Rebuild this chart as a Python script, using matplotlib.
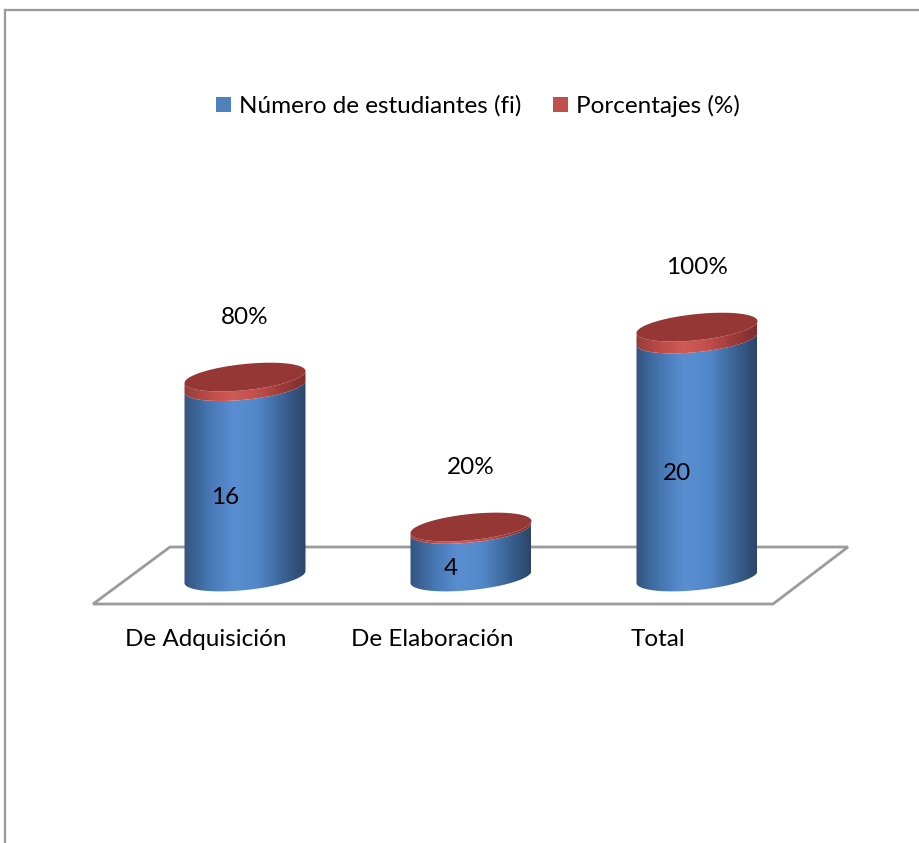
import numpy as np
import matplotlib.pyplot as plt
from matplotlib.patches import Polygon, Patch
from matplotlib.colors import LinearSegmentedColormap

plt.rcParams['font.family'] = ['Lato', 'DejaVu Sans']

categorias = ["De Adquisición", "De Elaboración", "Total"]
estudiantes = [16, 4, 20]
porcentajes = [0.8, 0.2, 1.0]
etiquetas_pct = ["80%", "20%", "100%"]

W, H = 920, 843
fig = plt.figure(figsize=(W / 100, H / 100), dpi=100)
ax = fig.add_axes([0, 0, 1, 1])
ax.set_axis_off()

# pixel scale of the axes (category step and value unit)
px_x, px_y = 226.0, 11.9
x0_px, y0_px = 245.0, 577.0          # position of (0, 0) in pixels from top-left
xlim = (-x0_px / px_x, (W - x0_px) / px_x)
ylim = (-(H - y0_px) / px_y, y0_px / px_y)

a = 60.5 / px_x          # cylinder half width
b = 1.1                  # ellipse half height (value units)
k = 0.5 / a              # slight tilt of the ellipses
fs = 17.5

blue_cm = LinearSegmentedColormap.from_list(
    "b", ["#33547f", "#4676b2", "#5a8ed2", "#5288c9", "#3d6699", "#2b4568"])
red_cm = LinearSegmentedColormap.from_list(
    "r", ["#963c3a", "#bc4b48", "#d05a56", "#c24e4b", "#9c3b39", "#7e2e2c"])


def ellipse_pts(cx, cy, t):
    x = cx + a * np.cos(t)
    return x, cy + b * np.sin(t) + k * (x - cx)


def band(cx, y_lo, y_hi, cmap):
    t_lo = np.linspace(np.pi, 2 * np.pi, 60)
    xb, yb = ellipse_pts(cx, y_lo, t_lo)
    xt, yt = ellipse_pts(cx, y_hi, t_lo[::-1])
    verts = np.vstack([np.column_stack([xb, yb]), np.column_stack([xt, yt])])
    poly = Polygon(verts, closed=True, facecolor='none', edgecolor='none')
    ax.add_patch(poly)
    grad = cmap(np.linspace(0, 1, 256))[None, :, :3]
    im = ax.imshow(grad, extent=[cx - a, cx + a, y_lo - 2, y_hi + 2],
                   aspect='auto', interpolation='bilinear', zorder=2)
    im.set_clip_path(poly)


# floor
n = len(categorias)
fy_back, fy_front = 30 / px_y, -27 / px_y
floor = Polygon([(-75 / px_x, fy_back), (n - 1 + 151 / px_x, fy_back),
                 (n - 1 + 76 / px_x, fy_front), (-152 / px_x, fy_front)],
                closed=True, facecolor='white', edgecolor='#9b9b9b', lw=2, zorder=1)
ax.add_patch(floor)

for i, (est, pct) in enumerate(zip(estudiantes, porcentajes)):
    band(i, 0, est, blue_cm)
    band(i, est, est + pct, red_cm)
    t = np.linspace(0, 2 * np.pi, 120)
    xe, ye = ellipse_pts(i, est + pct, t)
    ax.fill(xe, ye, color='#943735', zorder=3, lw=0)
    ax.text(i, est + pct + 5.0, etiquetas_pct[i], ha='center', va='center',
            fontsize=fs, color='black')
    ax.text(i - 20 / px_x, est / 2 - 1.3, str(est), ha='center', va='center',
            fontsize=fs, color='black', zorder=4)
    ax.text(i - 39 / px_x, -62 / px_y, categorias[i], ha='center', va='center',
            fontsize=fs, color='black')

ax.set_xlim(*xlim)
ax.set_ylim(*ylim)

# outer frame (only left and top edges visible)
fig.add_artist(plt.Line2D([5 / W, 5 / W], [0, 1 - 10 / H], color='#9a9a9a', lw=1.6))
fig.add_artist(plt.Line2D([5 / W, 1], [1 - 10 / H, 1 - 10 / H], color='#9a9a9a', lw=1.6))

handles = [Patch(facecolor='#4f81bd', label='Número de estudiantes (fi)'),
           Patch(facecolor='#c0504d', label='Porcentajes (%)')]
fig.legend(handles=handles, loc='center', bbox_to_anchor=(478 / W, 1 - 106 / H),
           ncol=2, frameon=False, fontsize=fs, handlelength=0.6, handleheight=0.6,
           handletextpad=0.35, columnspacing=1.3)

fig.savefig("out.png", dpi=100)
